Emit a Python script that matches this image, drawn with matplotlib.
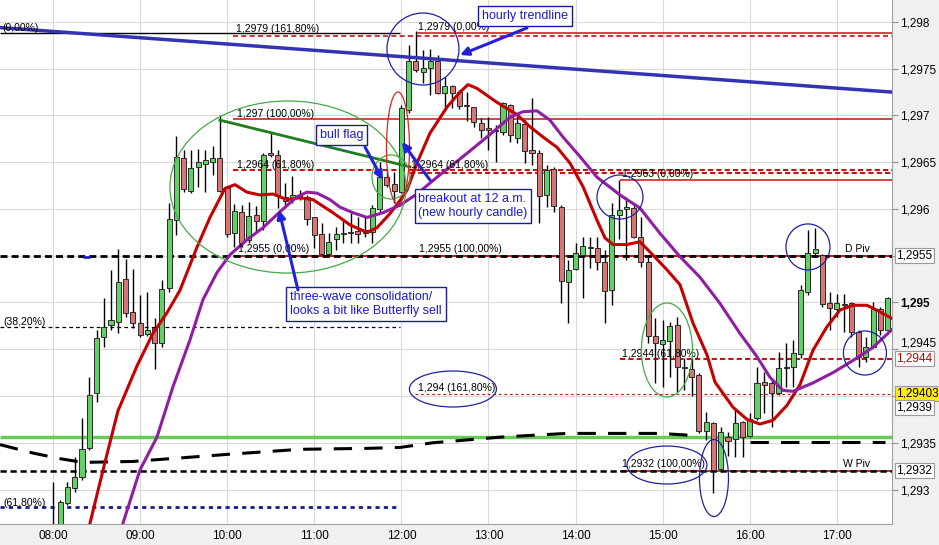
import numpy as np
import matplotlib.pyplot as plt
from matplotlib.patches import Ellipse
import matplotlib.transforms as mtransforms

plt.rcParams['font.family'] = ['Liberation Sans', 'DejaVu Sans']

# 5-minute candles, the first one at 08:00
opens = [1.29251, 1.29246, 1.29286, 1.29302, 1.29313, 1.29344, 1.29403, 1.29463, 1.29476, 1.29479,
         1.29525, 1.29490, 1.29478, 1.29466, 1.29473, 1.29457, 1.29516, 1.29588, 1.29655, 1.29619,
         1.29645, 1.29648, 1.29650, 1.29655, 1.29622, 1.29574, 1.29597, 1.29567, 1.29594, 1.29587,
         1.29660, 1.29658, 1.29613, 1.29611, 1.29613, 1.29613, 1.29591, 1.29573, 1.29552, 1.29568,
         1.29574, 1.29575, 1.29576, 1.29574, 1.29575, 1.29600, 1.29634, 1.29627, 1.29618, 1.29706,
         1.29758, 1.29747, 1.29751, 1.29758, 1.29724, 1.29731, 1.29725, 1.29711, 1.29709, 1.29692,
         1.29686, 1.29683, 1.29682, 1.29711, 1.29676, 1.29691, 1.29663, 1.29660, 1.29615, 1.29643,
         1.29602, 1.29522, 1.29536, 1.29551, 1.29559, 1.29558, 1.29543, 1.29513, 1.29594, 1.29600,
         1.29601, 1.29570, 1.29543, 1.29464, 1.29456, 1.29459, 1.29476, 1.29431, 1.29429, 1.29422,
         1.29363, 1.29371, 1.29322, 1.29356, 1.29354, 1.29372, 1.29357, 1.29376, 1.29415, 1.29414,
         1.29403, 1.29430, 1.29431, 1.29445, 1.29511, 1.29553, 1.29551, 1.29499, 1.29493, 1.29498,
         1.29499, 1.29468, 1.29442, 1.29452, 1.29493, 1.29471]
highs = [1.29308, 1.29289, 1.29308, 1.29335, 1.29377, 1.29420, 1.29471, 1.29505, 1.29535, 1.29557,
         1.29546, 1.29536, 1.29508, 1.29511, 1.29483, 1.29524, 1.29606, 1.29678, 1.29663, 1.29663,
         1.29664, 1.29663, 1.29667, 1.29700, 1.29625, 1.29605, 1.29604, 1.29608, 1.29603, 1.29660,
         1.29681, 1.29663, 1.29628, 1.29635, 1.29620, 1.29615, 1.29591, 1.29585, 1.29574, 1.29581,
         1.29588, 1.29596, 1.29591, 1.29591, 1.29604, 1.29650, 1.29642, 1.29640, 1.29711, 1.29775,
         1.29790, 1.29770, 1.29771, 1.29765, 1.29741, 1.29733, 1.29727, 1.29725, 1.29709, 1.29697,
         1.29698, 1.29690, 1.29714, 1.29712, 1.29703, 1.29695, 1.29719, 1.29663, 1.29647, 1.29645,
         1.29604, 1.29545, 1.29564, 1.29570, 1.29570, 1.29570, 1.29556, 1.29606, 1.29631, 1.29613,
         1.29606, 1.29591, 1.29549, 1.29483, 1.29481, 1.29479, 1.29485, 1.29441, 1.29441, 1.29425,
         1.29383, 1.29372, 1.29367, 1.29362, 1.29385, 1.29373, 1.29382, 1.29431, 1.29426, 1.29417,
         1.29447, 1.29457, 1.29460, 1.29519, 1.29578, 1.29580, 1.29552, 1.29511, 1.29509, 1.29509,
         1.29501, 1.29471, 1.29463, 1.29501, 1.29495, 1.29506]
lows = [1.29241, 1.29241, 1.29283, 1.29297, 1.29310, 1.29342, 1.29394, 1.29452, 1.29471, 1.29467,
        1.29485, 1.29473, 1.29463, 1.29464, 1.29429, 1.29452, 1.29511, 1.29572, 1.29618, 1.29617,
        1.29624, 1.29618, 1.29636, 1.29618, 1.29570, 1.29559, 1.29559, 1.29564, 1.29574, 1.29578,
        1.29656, 1.29601, 1.29604, 1.29606, 1.29610, 1.29583, 1.29558, 1.29551, 1.29551, 1.29556,
        1.29564, 1.29564, 1.29564, 1.29570, 1.29564, 1.29597, 1.29624, 1.29606, 1.29617, 1.29703,
        1.29746, 1.29735, 1.29722, 1.29723, 1.29709, 1.29708, 1.29707, 1.29694, 1.29688, 1.29676,
        1.29663, 1.29650, 1.29679, 1.29672, 1.29671, 1.29649, 1.29647, 1.29585, 1.29602, 1.29597,
        1.29499, 1.29478, 1.29535, 1.29505, 1.29537, 1.29535, 1.29478, 1.29497, 1.29568, 1.29545,
        1.29569, 1.29538, 1.29457, 1.29414, 1.29410, 1.29420, 1.29404, 1.29406, 1.29400, 1.29360,
        1.29353, 1.29296, 1.29321, 1.29336, 1.29335, 1.29335, 1.29356, 1.29374, 1.29382, 1.29367,
        1.29401, 1.29410, 1.29410, 1.29441, 1.29508, 1.29549, 1.29495, 1.29471, 1.29485, 1.29468,
        1.29463, 1.29431, 1.29436, 1.29451, 1.29465, 1.29468]
closes = [1.29248, 1.29287, 1.29303, 1.29313, 1.29343, 1.29401, 1.29462, 1.29474, 1.29481, 1.29522,
          1.29489, 1.29478, 1.29465, 1.29471, 1.29457, 1.29514, 1.29589, 1.29656, 1.29621, 1.29644,
          1.29650, 1.29652, 1.29654, 1.29619, 1.29573, 1.29598, 1.29564, 1.29593, 1.29587, 1.29658,
          1.29658, 1.29615, 1.29609, 1.29615, 1.29615, 1.29589, 1.29572, 1.29552, 1.29565, 1.29573,
          1.29573, 1.29574, 1.29573, 1.29578, 1.29601, 1.29634, 1.29626, 1.29619, 1.29708, 1.29758,
          1.29749, 1.29751, 1.29758, 1.29724, 1.29732, 1.29724, 1.29710, 1.29710, 1.29693, 1.29685,
          1.29685, 1.29685, 1.29713, 1.29679, 1.29692, 1.29662, 1.29660, 1.29614, 1.29642, 1.29603,
          1.29523, 1.29535, 1.29553, 1.29560, 1.29558, 1.29543, 1.29512, 1.29594, 1.29599, 1.29602,
          1.29570, 1.29543, 1.29464, 1.29457, 1.29460, 1.29475, 1.29431, 1.29430, 1.29420, 1.29363,
          1.29372, 1.29321, 1.29362, 1.29352, 1.29371, 1.29356, 1.29375, 1.29414, 1.29412, 1.29403,
          1.29430, 1.29431, 1.29446, 1.29513, 1.29553, 1.29557, 1.29498, 1.29494, 1.29499, 1.29497,
          1.29468, 1.29442, 1.29452, 1.29493, 1.29471, 1.29505]

# moving averages (time in hours, price)
fast_ma_t = [8.36, 8.425, 8.597, 8.746, 8.964, 9.148, 9.309, 9.458, 9.653, 9.803, 9.975, 10.090,
             10.227, 10.377, 10.526, 10.687, 10.836, 10.985, 11.215, 11.410, 11.605, 11.720, 11.869,
             11.984, 12.064, 12.179, 12.328, 12.524, 12.673, 12.765, 12.868, 13.098, 13.327, 13.476,
             13.626, 13.786, 13.936, 14.085, 14.246, 14.338, 14.429, 14.590, 14.739, 14.854, 15.049,
             15.199, 15.348, 15.509, 15.600, 15.807, 15.968, 16.117, 16.266, 16.427, 16.576, 16.726,
             16.886, 17.036, 17.185, 17.346, 17.495, 17.633]
fast_ma_p = [1.29240, 1.29264, 1.29329, 1.29384, 1.29432, 1.29467, 1.29489, 1.29513, 1.29559, 1.29591,
             1.29622, 1.29626, 1.29618, 1.29615, 1.29616, 1.29610, 1.29612, 1.29610, 1.29596, 1.29583,
             1.29575, 1.29580, 1.29595, 1.29609, 1.29620, 1.29649, 1.29681, 1.29709, 1.29725, 1.29733,
             1.29729, 1.29714, 1.29701, 1.29688, 1.29677, 1.29666, 1.29649, 1.29624, 1.29588, 1.29569,
             1.29562, 1.29562, 1.29565, 1.29554, 1.29535, 1.29519, 1.29478, 1.29444, 1.29415, 1.29388,
             1.29375, 1.29370, 1.29374, 1.29390, 1.29412, 1.29449, 1.29474, 1.29492, 1.29497, 1.29497,
             1.29490, 1.29483]
slow_ma_t = [8.75, 8.804, 8.999, 9.194, 9.378, 9.573, 9.722, 9.883, 10.032, 10.227, 10.411, 10.606,
             10.801, 10.916, 11.031, 11.180, 11.295, 11.444, 11.605, 11.789, 11.984, 12.179, 12.409,
             12.707, 12.983, 13.247, 13.396, 13.557, 13.706, 13.855, 14.051, 14.246, 14.510, 14.739,
             14.969, 15.199, 15.428, 15.658, 15.887, 16.083, 16.232, 16.381, 16.496, 16.726, 16.955,
             17.185, 17.414, 17.633]
slow_ma_p = [1.29240, 1.29264, 1.29321, 1.29356, 1.29410, 1.29460, 1.29503, 1.29532, 1.29551, 1.29567,
             1.29580, 1.29597, 1.29613, 1.29618, 1.29617, 1.29610, 1.29602, 1.29596, 1.29591, 1.29596,
             1.29604, 1.29616, 1.29634, 1.29656, 1.29677, 1.29698, 1.29704, 1.29705, 1.29695, 1.29677,
             1.29656, 1.29634, 1.29615, 1.29601, 1.29574, 1.29549, 1.29527, 1.29499, 1.29467, 1.29442,
             1.29420, 1.29406, 1.29405, 1.29414, 1.29425, 1.29438, 1.29452, 1.29471]
# long-dashed black average (two pieces)
avg_t = [7.392, 7.770, 8.080, 8.344, 8.918, 9.493, 10.067, 10.836, 11.605, 11.984, 12.363, 12.753,
         13.132, 13.511, 13.901, 14.475, 14.969, 15.313]
avg_p = [1.29348, 1.29339, 1.29333, 1.29329, 1.29330, 1.29334, 1.29338, 1.29343, 1.29344, 1.29345,
         1.29350, 1.29353, 1.29356, 1.29358, 1.29360, 1.29360, 1.29360, 1.29358]
avg2_t = [16.0, 17.552]
avg2_p = [1.29351, 1.29351]

# trendlines (start/end)
hourly_t = [7.392, 17.633]
hourly_p = [1.29794, 1.29725]
flag_t = [9.917, 12.099]
flag_p = [1.29695, 1.29645]

y_ticks = [1.293, 1.2935, 1.294, 1.2945, 1.295, 1.2955, 1.296, 1.2965, 1.297, 1.2975, 1.298]
x_hours = list(range(8, 18))

x0, x1 = 7.392, 17.633
y0, y1 = 1.292631, 1.298235

fig = plt.figure(figsize=(9.39, 5.45), dpi=100, facecolor='#f0f0f0')
ax = fig.add_axes([0, 0.0385, 892 / 939, 0.9615])
ax.set_facecolor('white')
ax.set_xlim(x0, x1)
ax.set_ylim(y0, y1)

# grid
ax.set_xticks(x_hours, [f'{h:02d}:00' for h in x_hours])
labels = []
for v in y_ticks:
    s = f'{v:.4f}'.rstrip('0').replace('.', ',')
    labels.append('' if v in (1.2955, 1.294) else s)
ax.set_yticks(y_ticks, labels)
ax.yaxis.tick_right()
ax.grid(color='#d9d9d9', lw=0.8, zorder=0)
ax.set_axisbelow(True)
ax.tick_params(axis='y', length=4, color='#909090', labelsize=8.5, pad=2)
ax.tick_params(axis='x', length=0, labelsize=8.5, pad=4)
for lab in ax.get_yticklabels():
    if lab.get_text() == '1,295':
        lab.set_fontweight('bold')
    if lab.get_text() == '1,2945':
        lab.set_va('bottom')
for s in ['top', 'left']:
    ax.spines[s].set_visible(False)
for s in ['right', 'bottom']:
    ax.spines[s].set_color('#a0a0a0')

# horizontal levels
red = '#cc1111'
ax.hlines(1.29788, x0, 11.984, color='black', lw=1, zorder=2)
ax.hlines(1.29785, 10.067, x1, color=red, lw=1.2, linestyles=(0, (3, 2)), zorder=2)
ax.hlines(1.29788, 12.179, x1, color=red, lw=1.1, zorder=2)
ax.hlines(1.29696, 10.067, x1, color=red, lw=1.1, zorder=2)
ax.hlines(1.29642, 10.067, x1, color=red, lw=1.5, linestyles=(0, (2.5, 1.5)), zorder=2)
ax.hlines(1.29639, 12.10, x1, color=red, lw=1.5, linestyles=(0, (2.5, 1.5)), zorder=2)
ax.hlines(1.29631, 14.51, x1, color=red, lw=1.1, zorder=2)
ax.hlines(1.29550, 10.067, x1, color=red, lw=1.4, zorder=2)
ax.hlines(1.29550, x0, x1, color='black', lw=2, linestyles=(0, (2.5, 1.5)), zorder=2)
ax.hlines(1.29549, 8.344, 8.425, color='#2222cc', lw=2, zorder=2)
ax.hlines(1.29474, x0, 11.984, color='black', lw=0.9, linestyles=(0, (3, 2.5)), zorder=2)
ax.hlines(1.29440, 14.51, x1, color=red, lw=1.5, linestyles=(0, (2.5, 1.5)), zorder=2)
ax.hlines(1.29402, 12.156, x1, color=red, lw=0.8, linestyles=(0, (2.5, 2.5)), zorder=2)
ax.hlines(1.29356, x0, x1, color='#66cc55', lw=2.5, zorder=2)
ax.hlines(1.29320, 14.51, x1, color='#aa1111', lw=1.2, zorder=2)
ax.hlines(1.29320, x0, x1, color='black', lw=1.8, linestyles=(0, (2.5, 1.5)), zorder=2)
ax.hlines(1.29281, x0, 11.984, color='#1a1a8c', lw=2, linestyles=(0, (1.5, 1.5)), zorder=2)

ax.plot(avg_t, avg_p, color='black', lw=2.2, dashes=(6, 4), zorder=2)
ax.plot(avg2_t, avg2_p, color='black', lw=2.2, dashes=(6, 4), zorder=2)

# candles
times = 8 + np.arange(len(opens)) * 5 / 60
o = np.array(opens)
c = np.array(closes)
colors = np.where(c >= o, '#62d062', '#d97474')
body = np.maximum(np.abs(c - o), 0.000012)
ax.vlines(times, lows, highs, color='black', lw=1, zorder=3)
ax.bar(times, body, bottom=np.minimum(o, c), width=0.058, color=colors,
       edgecolor='#2b2b2b', linewidth=0.7, zorder=3)

# moving averages and trendlines
ax.plot(fast_ma_t, fast_ma_p, color='#c40000', lw=2.2, zorder=4)
ax.plot(slow_ma_t, slow_ma_p, color='#8f1ea3', lw=2.2, zorder=4)
ax.plot(hourly_t, hourly_p, color='#3333b3', lw=2.5, zorder=4)
ax.plot(flag_t, flag_p, color='#1e7d1e', lw=2, zorder=4)

# level labels
lab_kw = dict(fontsize=7.5, color='black', va='center', zorder=5)
ax.text(7.415, 1.297936, '(0,00%)', **lab_kw)
ax.text(10.101, 1.297925, '1,2979 (161,80%)', **lab_kw)
ax.text(12.191, 1.297947, '1,2979 (0,00%)', **lab_kw)
ax.text(10.113, 1.297016, '1,297 (100,00%)', **lab_kw)
ax.text(10.113, 1.296471, '1,2964 (61,80%)', **lab_kw)
ax.text(12.110, 1.296471, '1,2964 (61,80%)', **lab_kw)
ax.text(14.533, 1.296374, '1,2963 (0,00%)', **lab_kw)
ax.text(10.124, 1.295572, '1,2955 (0,00%)', **lab_kw)
ax.text(12.202, 1.295572, '1,2955 (100,00%)', **lab_kw)
ax.text(17.380, 1.295572, 'D Piv', ha='right', **lab_kw)
ax.text(7.426, 1.294791, '(38,20%)', **lab_kw)
ax.text(14.533, 1.294449, '1,2944 (61,80%)', **lab_kw)
ax.text(12.191, 1.294086, '1,294 (161,80%)', **lab_kw)
ax.text(14.533, 1.293273, '1,2932 (100,00%)', **lab_kw)
ax.text(17.380, 1.293273, 'W Piv', ha='right', **lab_kw)
ax.text(7.426, 1.292856, '(61,80%)', **lab_kw)

# ellipses
ell = [  # centre t, centre price, width h, height, colour
    (10.698, 1.296235, 2.71, 0.00184, '#44aa44'),
    (11.881, 1.296342, 0.436, 0.000471, '#44aa44'),
    (11.961, 1.296652, 0.264, 0.001198, '#dd2222'),
    (12.248, 1.297711, 0.827, 0.00077, '#2020a0'),
    (14.510, 1.296128, 0.528, 0.000471, '#2020a0'),
    (15.049, 1.294492, 0.586, 0.001005, '#44aa44'),
    (16.668, 1.295594, 0.505, 0.000492, '#2020a0'),
    (17.322, 1.294460, 0.494, 0.000471, '#2020a0'),
    (12.592, 1.294075, 0.999, 0.000385, '#2020a0'),
    (15.049, 1.293262, 0.918, 0.000406, '#2020a0'),
    (15.589, 1.293123, 0.333, 0.000824, '#2020a0'),
]
for cx, cy, w, h, col in ell:
    ax.add_patch(Ellipse((cx, cy), w, h, fill=False, ec=col, lw=0.9, zorder=5))

# comment boxes and arrows
blue = '#1a1acc'
box = dict(boxstyle='square,pad=0.3', fc='white', ec='#1a1aa0', lw=1)
txt_kw = dict(fontsize=9, color=blue, ha='center', va='center', multialignment='left',
              bbox=box, zorder=6)
ax.text(13.419, 1.298064, 'hourly trendline', **txt_kw)
ax.text(11.318, 1.296791, 'bull flag', **txt_kw)
ax.text(12.822, 1.296032, 'breakout at 12 a.m.\n(new hourly candle)', **txt_kw)
ax.text(11.594, 1.294984, 'three-wave consolidation/\nlooks a bit like Butterfly sell', **txt_kw)

arr = dict(arrowstyle='-|>', color='#2222dd', lw=2.2, mutation_scale=12,
           shrinkA=0, shrinkB=0)
for (ta, pa), (tb, pb) in [((13.442, 1.297936), (12.673, 1.297647)),
                           ((11.582, 1.296663), (11.789, 1.296310)),
                           ((12.328, 1.296310), (12.007, 1.296717)),
                           ((10.813, 1.295134), (10.595, 1.295989))]:
    ax.annotate('', xy=(tb, pb), xytext=(ta, pa), arrowprops=arr, zorder=6)

# boxed prices on the axis
trans = mtransforms.blended_transform_factory(ax.transAxes, ax.transData)
axbox = [(1.29550, '1,2955', 'black', 'white'),
         (1.29440, '1,2944', '#cc0000', 'white'),
         (1.29403, '1,29403', 'black', '#ffee00'),
         (1.29388, '1,2939', 'black', 'white'),
         (1.29320, '1,2932', 'black', 'white')]
for p, s, col, fc in axbox:
    ax.text(1.005, p, s, transform=trans, fontsize=8.5, color=col, ha='left', va='center',
            bbox=dict(boxstyle='square,pad=0.12', fc=fc, ec='#9a9a9a', lw=0.8),
            clip_on=False, zorder=7)

fig.savefig('out.png', dpi=100, facecolor=fig.get_facecolor())
